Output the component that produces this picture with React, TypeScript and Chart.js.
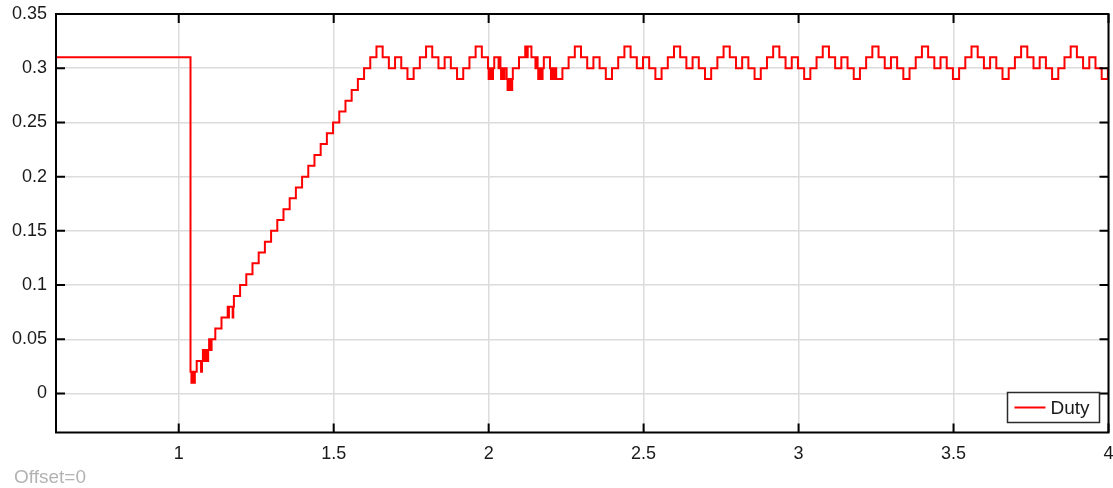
import React, { useEffect, useRef } from "react";
import { Chart, registerables } from "chart.js";

Chart.register(...registerables);

// ---- data ----
// start-up: hold, drop and chattering at the bottom of the ramp
const startTimes = [
  0.6, 1.038, 1.041, 1.043, 1.049, 1.052, 1.058, 1.072, 1.075, 1.078, 1.081, 1.083, 1.085,
  1.087, 1.092, 1.095, 1.098, 1.1, 1.102, 1.104, 1.106, 1.118, 1.138, 1.158, 1.16, 1.162,
  1.174, 1.176,
];
const startDuty = [
  0.31, 0.02, 0.01, 0.02, 0.01, 0.02, 0.03, 0.02, 0.03, 0.04, 0.03, 0.04, 0.03,
  0.04, 0.03, 0.04, 0.05, 0.04, 0.05, 0.04, 0.05, 0.06, 0.07, 0.08, 0.07, 0.08,
  0.07, 0.08,
];
// linear ramp
const rampTimes = [
  1.178, 1.198, 1.218, 1.238, 1.258, 1.278, 1.298, 1.318, 1.338, 1.358, 1.378, 1.398, 1.418,
  1.438, 1.458, 1.478, 1.498, 1.518, 1.538, 1.558, 1.578, 1.598, 1.618,
];
const rampDuty = [
  0.09, 0.1, 0.11, 0.12, 0.13, 0.14, 0.15, 0.16, 0.17, 0.18, 0.19, 0.2, 0.21, 0.22, 0.23,
  0.24, 0.25, 0.26, 0.27, 0.28, 0.29, 0.3, 0.31,
];
// steady-state ripple (with the chattering burst near t = 2)
const steadyTimes = [
  1.638, 1.658, 1.678, 1.698, 1.718, 1.738, 1.758, 1.778,
  1.798, 1.818, 1.838, 1.858, 1.878, 1.898, 1.918, 1.938,
  1.958, 1.978,
  1.998, 2.0, 2.002, 2.004, 2.006, 2.008, 2.01, 2.012, 2.014,
  2.018, 2.032, 2.035,
  2.038, 2.04, 2.042, 2.044, 2.046, 2.048, 2.051,
  2.058, 2.061, 2.063, 2.065, 2.067, 2.069, 2.071, 2.073, 2.076,
  2.078, 2.098,
  2.118, 2.123, 2.126,
  2.138, 2.151, 2.155,
  2.158, 2.16, 2.162, 2.164, 2.166, 2.168, 2.17, 2.172, 2.174,
  2.178,
  2.198, 2.201, 2.203, 2.205, 2.207, 2.209, 2.211, 2.213, 2.216,
  2.218, 2.238, 2.258,
  2.278, 2.298, 2.318, 2.338, 2.358, 2.378, 2.398, 2.418,
  2.438, 2.458, 2.478, 2.498, 2.518, 2.538, 2.558, 2.578,
  2.598, 2.618, 2.638, 2.658, 2.678, 2.698, 2.718, 2.738,
  2.758, 2.778, 2.798, 2.818, 2.838, 2.858, 2.878, 2.898,
  2.918, 2.938, 2.958, 2.978, 2.998, 3.018, 3.038, 3.058,
  3.078, 3.098, 3.118, 3.138, 3.158, 3.178, 3.198, 3.218,
  3.238, 3.258, 3.278, 3.298, 3.318, 3.338, 3.358, 3.378,
  3.398, 3.418, 3.438, 3.458, 3.478, 3.498, 3.518, 3.538,
  3.558, 3.578, 3.598, 3.618, 3.638, 3.658, 3.678, 3.698,
  3.718, 3.738, 3.758, 3.778, 3.798, 3.818, 3.838, 3.858,
  3.878, 3.898, 3.918, 3.938, 3.958, 3.978, 3.998, 4.0,
];
const steadyDuty = [
  0.32, 0.31, 0.3, 0.31, 0.3, 0.29, 0.3, 0.31,
  0.32, 0.31, 0.3, 0.31, 0.3, 0.29, 0.3, 0.31,
  0.32, 0.31,
  0.3, 0.29, 0.3, 0.29, 0.3, 0.29, 0.3, 0.29, 0.3,
  0.31, 0.3, 0.31,
  0.3, 0.29, 0.3, 0.29, 0.3, 0.29, 0.3,
  0.29, 0.28, 0.29, 0.28, 0.29, 0.28, 0.29, 0.28, 0.29,
  0.3, 0.31,
  0.32, 0.31, 0.32,
  0.31, 0.3, 0.31,
  0.3, 0.29, 0.3, 0.29, 0.3, 0.29, 0.3, 0.29, 0.3,
  0.31,
  0.3, 0.29, 0.3, 0.29, 0.3, 0.29, 0.3, 0.29, 0.3,
  0.29, 0.3, 0.31,
  0.32, 0.31, 0.3, 0.31, 0.3, 0.29, 0.3, 0.31,
  0.32, 0.31, 0.3, 0.31, 0.3, 0.29, 0.3, 0.31,
  0.32, 0.31, 0.3, 0.31, 0.3, 0.29, 0.3, 0.31,
  0.32, 0.31, 0.3, 0.31, 0.3, 0.29, 0.3, 0.31,
  0.32, 0.31, 0.3, 0.31, 0.3, 0.29, 0.3, 0.31,
  0.32, 0.31, 0.3, 0.31, 0.3, 0.29, 0.3, 0.31,
  0.32, 0.31, 0.3, 0.31, 0.3, 0.29, 0.3, 0.31,
  0.32, 0.31, 0.3, 0.31, 0.3, 0.29, 0.3, 0.31,
  0.32, 0.31, 0.3, 0.31, 0.3, 0.29, 0.3, 0.31,
  0.32, 0.31, 0.3, 0.31, 0.3, 0.29, 0.3, 0.31,
  0.32, 0.31, 0.3, 0.31, 0.3, 0.29, 0.3, 0.3,
];

const xTickValues = [1, 1.5, 2, 2.5, 3, 3.5, 4];
const xTickLabels = ["1", "1.5", "2", "2.5", "3", "3.5", "4"];
const yTickValues = [0, 0.05, 0.1, 0.15, 0.2, 0.25, 0.3, 0.35];
const yTickLabels = ["0", "0.05", "0.1", "0.15", "0.2", "0.25", "0.3", "0.35"];
const X_MIN = 0.604;
const X_MAX = 4;
const Y_MIN = -0.036;
const Y_MAX = 0.35;
const SERIES_LABEL = "Duty";
const OFFSET_TEXT = "Offset=0";

const FONT = "'Liberation Sans', Arial, Helvetica, sans-serif";

const framePlugin = {
  id: "scopeFrame",
  afterDatasetsDraw(chart: any) {
    const { ctx, chartArea: a, scales } = chart;
    const L = 9;
    ctx.save();
    ctx.strokeStyle = "#000";
    ctx.lineWidth = 2;
    ctx.beginPath();
    for (const v of xTickValues) {
      const px = scales.x.getPixelForValue(v);
      ctx.moveTo(px, a.top);
      ctx.lineTo(px, a.top + L);
      ctx.moveTo(px, a.bottom);
      ctx.lineTo(px, a.bottom - L);
    }
    for (const v of yTickValues) {
      const py = scales.y.getPixelForValue(v);
      ctx.moveTo(a.left, py);
      ctx.lineTo(a.left + L, py);
      ctx.moveTo(a.right, py);
      ctx.lineTo(a.right - L, py);
    }
    ctx.stroke();
    ctx.strokeRect(a.left, a.top, a.right - a.left, a.bottom - a.top);

    // legend box (inside, bottom right)
    const ds = chart.data.datasets[0];
    const bw = 92;
    const bh = 30;
    const bx = a.right - 9 - bw;
    const by = a.bottom - 10 - bh;
    ctx.fillStyle = "#fff";
    ctx.fillRect(bx, by, bw, bh);
    ctx.lineWidth = 1.5;
    ctx.strokeStyle = "#2b2b2b";
    ctx.strokeRect(bx, by, bw, bh);
    const my = by + bh / 2;
    ctx.strokeStyle = ds.borderColor;
    ctx.lineWidth = 2;
    ctx.beginPath();
    ctx.moveTo(bx + 7, my);
    ctx.lineTo(bx + 38, my);
    ctx.stroke();
    ctx.fillStyle = "#1a1a1a";
    ctx.font = `19px ${FONT}`;
    ctx.textBaseline = "middle";
    ctx.textAlign = "left";
    ctx.fillText(ds.label, bx + 43, my + 1);
    ctx.restore();
  },
};

export default function App() {
  const canvasRef = useRef<HTMLCanvasElement | null>(null);

  useEffect(() => {
    const canvas = canvasRef.current;
    if (!canvas) return;
    const times = [...startTimes, ...rampTimes, ...steadyTimes];
    const duty = [...startDuty, ...rampDuty, ...steadyDuty];
    const points = times.map((t, i) => ({ x: t, y: duty[i] }));

    const chart = new Chart(canvas, {
      type: "line",
      data: {
        datasets: [
          {
            label: SERIES_LABEL,
            data: points,
            borderColor: "#ff0000",
            borderWidth: 2,
            pointRadius: 0,
            stepped: "before",
            fill: false,
            tension: 0,
          },
        ],
      },
      options: {
        animation: false,
        responsive: false,
        maintainAspectRatio: false,
        devicePixelRatio: 1,
        layout: { padding: { left: 0, top: 14, right: 4.5, bottom: 0 } },
        plugins: {
          legend: { display: false },
          tooltip: { enabled: false },
        },
        scales: {
          x: {
            type: "linear",
            min: X_MIN,
            max: X_MAX,
            afterBuildTicks: (scale: any) => {
              scale.ticks = xTickValues.map((v) => ({ value: v }));
            },
            afterFit: (scale: any) => {
              scale.height = 55.5;
              scale.paddingLeft = 0;
              scale.paddingRight = 0;
            },
            grid: { color: "#dcdcdc", lineWidth: 1.5, drawTicks: false },
            border: { display: false },
            ticks: {
              autoSkip: false,
              maxRotation: 0,
              minRotation: 0,
              padding: 11,
              color: "#1a1a1a",
              font: { family: FONT, size: 18 },
              callback: (value: any) => {
                const i = xTickValues.indexOf(Number(value));
                return i >= 0 ? xTickLabels[i] : "";
              },
            },
          },
          y: {
            type: "linear",
            min: Y_MIN,
            max: Y_MAX,
            afterBuildTicks: (scale: any) => {
              scale.ticks = yTickValues.map((v) => ({ value: v }));
            },
            afterFit: (scale: any) => {
              scale.width = 56;
              scale.paddingTop = 0;
              scale.paddingBottom = 0;
            },
            grid: { color: "#dcdcdc", lineWidth: 1.5, drawTicks: false },
            border: { display: false },
            ticks: {
              padding: 9,
              color: "#1a1a1a",
              font: { family: FONT, size: 18 },
              callback: (value: any) => {
                const i = yTickValues.indexOf(Number(value));
                return i >= 0 ? yTickLabels[i] : "";
              },
            },
          },
        },
      },
      plugins: [framePlugin],
    });
    return () => chart.destroy();
  }, []);

  return (
    <div
      style={{
        position: "absolute",
        left: 0,
        top: 0,
        width: 1113,
        height: 488,
        overflow: "hidden",
        background: "#fff",
      }}
    >
      <canvas ref={canvasRef} width={1113} height={488} style={{ display: "block" }} />
      <div
        style={{
          position: "absolute",
          left: 14,
          top: 467,
          fontFamily: FONT,
          fontSize: 19,
          lineHeight: "20px",
          color: "#b3b3b3",
          whiteSpace: "nowrap",
        }}
      >
        {OFFSET_TEXT}
      </div>
    </div>
  );
}
